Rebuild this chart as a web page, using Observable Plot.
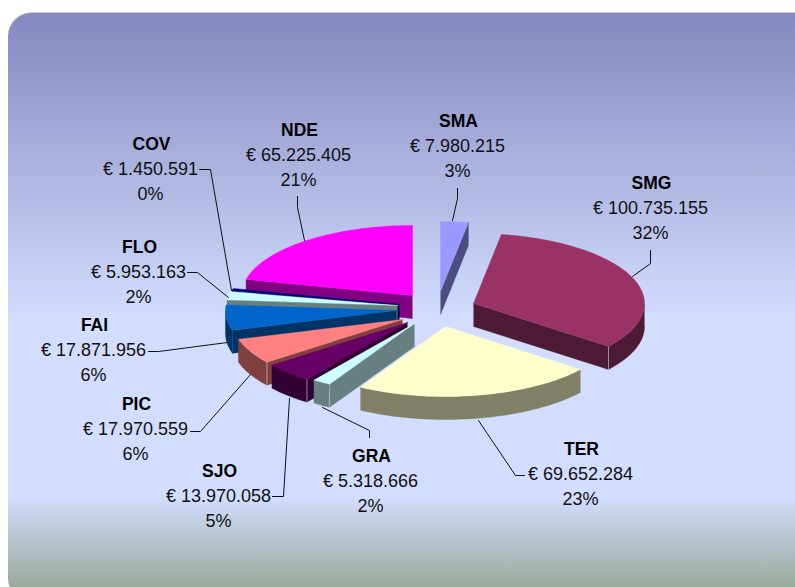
<!DOCTYPE html>
<html>
<head>
<meta charset="utf-8">
<script src="https://cdn.jsdelivr.net/npm/d3@7"></script>
<script src="https://cdn.jsdelivr.net/npm/@observablehq/plot@0.6"></script>
<style>
html,body{margin:0;padding:0;background:#fff;overflow:hidden;width:795px;height:587px}
#panel{position:absolute;left:8px;top:12px;width:812px;height:590px;border-radius:24px;border-top:1px solid #c9cce2;box-sizing:border-box;
background:linear-gradient(to bottom,#8488bf 0,#d3ddff 52%,#d3ddff 82%,#98ab9b 97.5%)}
#chart{position:absolute;left:0;top:0}
</style>
</head>
<body>
<div id="panel"></div>
<div id="chart"></div>
<script>
// ---- data, in pie order (clockwise from 12 o'clock)
const names  = ["SMA","SMG","TER","GRA","SJO","PIC","FAI","FLO","COV","NDE"];
const values = [7980215,100735155,69652284,5318666,13970058,17970559,17871956,5953163,1450591,65225405];
const shares = ["3%","32%","23%","2%","5%","6%","6%","2%","0%","21%"];

// ---- styles
const topColors  = ["#9999ff","#993366","#ffffcc","#ccffff","#660066","#ff8080","#0066cc","#ccffff","#000080","#ff00ff"];
const sideColors = ["#4d4d80","#4d1a33","#808066","#668080","#330033","#804040","#003366","#668080","#000040","#800080"];
const paleEdges  = ["SMG","GRA","SJO","PIC"];

// ---- layout: where each exploded slice's tip sits, and the label blocks
const tipX = [440,473,445,414,407,402,396,397,399,412];
const tipY = [291,303,326,323,322,319,310,305,304,295];
const labelX = [458,651,581,371,219,136,94,139,151,299];
const labelY = [121,183,449,456,471,404,325,247,144,130];
const leaders = [
  [[457,188],[457,198],[452,220]],
  [[650,250],[650,263],[632,276]],
  [[524,475],[515,475],[478,420]],
  [[369,437],[369,430],[322,407]],
  [[272,496],[283,496],[289,398]],
  [[190,431],[200,431],[250,374]],
  [[148,351],[158,351],[227,342]],
  [[187,272],[197,272],[228,297]],
  [[199,169],[210,169],[231,290]],
  [[297,196],[297,207],[304,240]]
];
const rx = 171, ry = 70, depth = 23;
const paintOrder = ["SMA","NDE","COV","FLO","FAI","SMG","PIC","SJO","GRA","TER"];

// ---- geometry derived from the values
const total = d3.sum(values);
let cum = 0;
const slices = names.map((name,i) => {
  const a0 = cum / total * 2 * Math.PI;
  cum += values[i];
  const a1 = cum / total * 2 * Math.PI;
  return {name, i, a0, a1};
});
const pt = (s, a, dz = 0) => [tipX[s.i] + rx * Math.sin(a), tipY[s.i] - ry * Math.cos(a) + dz];
const tip = (s, dz = 0) => [tipX[s.i], tipY[s.i] + dz];
const arcPts = (s, a0, a1, dz = 0) => {
  const n = Math.max(2, Math.ceil((a1 - a0) / (Math.PI / 120)));
  return d3.range(n + 1).map(k => pt(s, a0 + (a1 - a0) * k / n, dz));
};
const poly = (pts, fill) => pts.map(([x, y]) => ({x, y, fill}));

const PI = Math.PI;
const sliceMarks = slice => {
  const top = topColors[slice.i], side = sideColors[slice.i];
  const faces = [];
  // radial cut faces that look toward the viewer
  if (Math.sin(slice.a1) > 0.001)
    faces.push([tip(slice), pt(slice, slice.a1), pt(slice, slice.a1, depth), tip(slice, depth)]);
  if (Math.sin(slice.a0) < -0.001)
    faces.push([tip(slice), pt(slice, slice.a0), pt(slice, slice.a0, depth), tip(slice, depth)]);
  // outer rim, front half only
  const r0 = Math.max(slice.a0, PI / 2), r1 = Math.min(slice.a1, 3 * PI / 2);
  if (r1 > r0) faces.push([...arcPts(slice, r0, r1), ...arcPts(slice, r0, r1, depth).reverse()]);
  const marks = faces.map(f => Plot.line(poly(f, side), {x: "x", y: "y", fill: "fill", stroke: "fill", strokeWidth: 0.4, curve: "linear"}));
  // the pale edge where a cut face meets the rim
  if (paleEdges.includes(slice.name)) {
    const cornerA = Math.sin(slice.a1) > 0.001 ? slice.a1 : slice.a0;
    marks.push(Plot.line(poly([pt(slice, cornerA), pt(slice, cornerA, depth)], "none"), {x: "x", y: "y", stroke: "#cfcfd8", strokeWidth: 1, strokeOpacity: 0.6}));
  }
  // top surface
  marks.push(Plot.line(poly([tip(slice), ...arcPts(slice, slice.a0, slice.a1), tip(slice)], top), {x: "x", y: "y", fill: "fill", stroke: "fill", strokeWidth: 0.4, curve: "linear"}));
  return marks;
};

const fmt = d3.formatLocale({decimal: ",", thousands: ".", grouping: [3], currency: ["€", ""]}).format(",d");
const labels = names.map((name, i) => ({name, x: labelX[i], y: labelY[i], value: "€\u2009\u200a" + fmt(values[i]), share: shares[i]}));
const lineStep = 25;
const leaderRows = leaders.flatMap((l, i) => l.map(([x, y]) => ({x, y, id: names[i]})));

const chart = Plot.plot({
  width: 795, height: 587,
  margin: 0,
  x: {domain: [0, 795], range: [0, 795], axis: null},
  y: {domain: [0, 587], range: [0, 587], axis: null},
  style: {background: "transparent", fontFamily: "'Liberation Sans', Arial, sans-serif"},
  marks: [
    paintOrder.flatMap(n => sliceMarks(slices[names.indexOf(n)])),
    Plot.line(leaderRows, {x: "x", y: "y", z: "id", stroke: "#111", strokeWidth: 1}),
    Plot.text(labels, {x: "x", y: "y", text: "name", fontSize: 17.5, fontWeight: "bold", fill: "#000"}),
    Plot.text(labels, {x: d => d.x - 1, y: d => d.y + lineStep, text: "value", fontSize: 18, fill: "#111"}),
    Plot.text(labels, {x: d => d.x - 1, y: d => d.y + 2 * lineStep, text: "share", fontSize: 18, fill: "#111"})
  ]
});
document.getElementById("chart").appendChild(chart);
</script>
</body>
</html>
